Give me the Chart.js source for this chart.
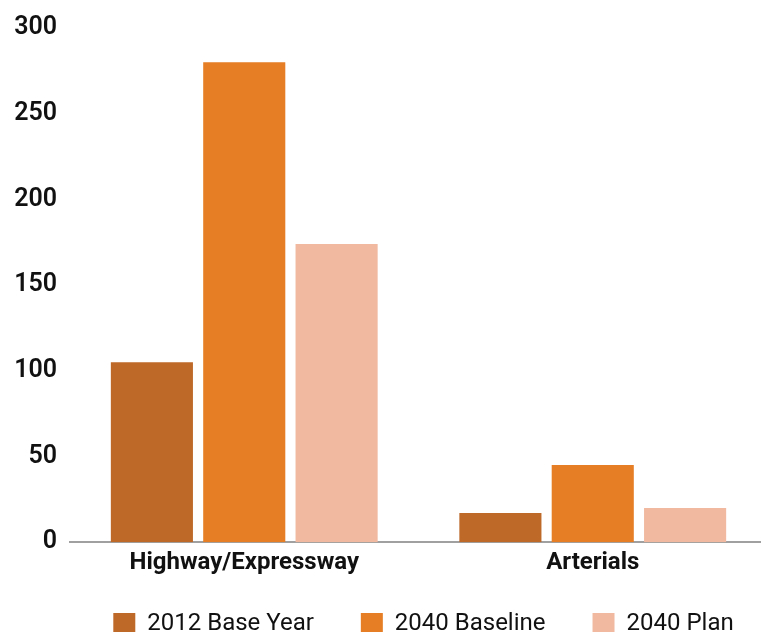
<!DOCTYPE html>
<html>
<head>
<meta charset="utf-8">
<script src="https://cdn.jsdelivr.net/npm/chart.js@4/dist/chart.umd.min.js"></script>
<style>
  body { margin: 0; overflow: hidden; background: #fff; }
</style>
</head>
<body>
<canvas id="vmt" width="768" height="664"></canvas>
<script>
var categories = ['Highway/Expressway', 'Arterials'];
var base2012 = [105, 17];
var baseline2040 = [280, 45];
var plan2040 = [174, 20];
var yTicks = [0, 50, 100, 150, 200, 250, 300];

// move the legend up a bit so the row spacing can stay wide
var legendShift = {
  id: 'legendShift',
  afterLayout: function (chart) {
    var lg = chart.legend;
    lg.top -= 18; lg.bottom -= 18;
    lg.left += 40; lg.right += 40;
  }
};

var ctx = document.getElementById('vmt');
var chart = new Chart(ctx, {
  type: 'bar',
  data: {
    labels: categories,
    datasets: [
      { label: '2012 Base Year', data: base2012, backgroundColor: '#BE6928' },
      { label: '2040 Baseline', data: baseline2040, backgroundColor: '#E57E25' },
      { label: '2040 Plan', data: plan2040, backgroundColor: '#F0B9A0' }
    ]
  },
  options: {
    responsive: false,
    animation: false,
    categoryPercentage: 0.795,
    barPercentage: 0.889,
    layout: { padding: { top: 24, left: 0, right: 1, bottom: 0 } },
    plugins: {
      tooltip: { enabled: false },
      legend: {
        position: 'bottom',
        labels: {
          boxWidth: 22,
          boxHeight: 22,
          padding: 47,
          color: '#111',
          font: { family: 'Roboto', size: 24, weight: 'normal' }
        }
      }
    },
    scales: {
      x: {
        grid: { display: false, drawTicks: false },
        border: { display: true, color: '#a0a0a0', width: 2 },
        ticks: {
          padding: 6,
          color: '#111',
          font: { family: 'Roboto', size: 24, weight: 'bold' }
        }
      },
      y: {
        min: 0,
        max: 300,
        afterFit: function (s) { s.width = 70; },
        afterBuildTicks: function (s) { s.ticks = yTicks.map(function (v) { return { value: v }; }); },
        grid: { display: false, drawTicks: false },
        border: { display: false },
        ticks: {
          padding: 13,
          color: '#111',
          font: { family: 'Roboto', size: 25, weight: '600' }
        }
      }
    }
  },
  plugins: [legendShift]
});
</script>
</body>
</html>
